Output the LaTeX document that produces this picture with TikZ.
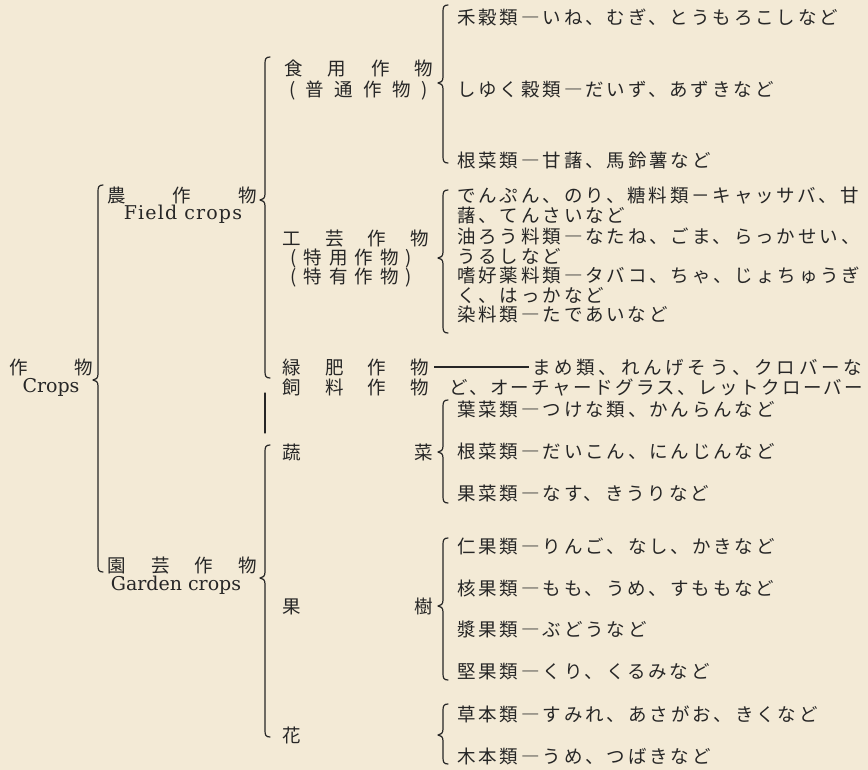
\documentclass[tikz,border=0pt]{standalone}
\usepackage{fontspec}
\newfontfamily\jp[LetterSpace=15.5]{Noto Sans CJK JP}
\newfontfamily\jpm[LetterSpace=13]{Noto Sans CJK JP}
\newfontfamily\jpn{Noto Sans CJK JP}
\newfontfamily\engl{DejaVu Serif}
\newfontfamily\englw[LetterSpace=6]{DejaVu Serif}
\definecolor{bgcream}{HTML}{F3EAD6}
\definecolor{ink}{HTML}{262626}
\tikzset{
  jtext/.style={anchor=west, inner sep=0pt, text=ink,
    font=\jp\fontsize{18.5}{21}\selectfont, text height=16.3pt, text depth=2.2pt},
  jlab/.style={anchor=west, inner sep=0pt, text=ink,
    font=\jpn\fontsize{18.5}{21}\selectfont, text height=16.3pt, text depth=2.2pt},
  elab/.style={anchor=base, inner sep=0pt, text=ink,
    font=\engl\fontsize{19}{22}\selectfont},
  bracestyle/.style={draw=ink, line width=1.2pt, line cap=round, line join=round},
  conn/.style={draw=ink, line width=1.2pt}
}
\newcommand\mybrace[4]{%
  \draw[bracestyle] (#1+5,#2) .. controls (#1+1,#2) and (#1,#2+2) .. (#1,#2+6)
    -- (#1,#3-6) .. controls (#1,#3-2) and (#1-2,#3) .. (#1-5,#3)
    .. controls (#1-2,#3) and (#1,#3+2) .. (#1,#3+6)
    -- (#1,#4-6) .. controls (#1,#4-2) and (#1+1,#4) .. (#1+5,#4);}
\begin{document}
\begin{tikzpicture}[x=1pt,y=-1pt]
\fill[bgcream] (0,0) rectangle (868,770);
\useasboundingbox (0,0) rectangle (868,770);

% level 0
\node[jlab] (sakumotsu) at (9,367) {\hbox to 84pt{作\hfil 物}};
\node[elab] (crops) at (51,392) {Crops};
\mybrace{98}{185}{380}{572}

% level 1
\node[jlab] (nou) at (107,195) {\hbox to 150pt{農\hfil 作\hfil 物}};
\node[elab, font=\englw\fontsize{19}{22}\selectfont] (field) at (183,220) {Field crops};
\node[jlab] (engei) at (107,565) {\hbox to 150pt{園\hfil 芸\hfil 作\hfil 物}};
\node[elab] (garden) at (176,590) {Garden crops};
\mybrace{265}{57}{200}{378}
\draw[bracestyle] (265,393) -- (265,433);
\mybrace{265}{445}{578}{737}

% level 2
\node[jlab] (shokuyou) at (284,68) {\hbox to 149pt{食\hfil 用\hfil 作\hfil 物}};
\node[jlab] (futsuu) at (289,89) {\hbox to 139pt{(\hfil 普\hfil 通\hfil 作\hfil 物\hfil )}};
\node[jlab] (kougei) at (282,238) {\hbox to 147pt{工\hfil 芸\hfil 作\hfil 物}};
\node[jlab] (tokuyou) at (290,257) {\hbox to 122pt{(\hfil 特\hfil 用\hfil 作\hfil 物\hfil )}};
\node[jlab] (tokuyuu) at (290,276) {\hbox to 122pt{(\hfil 特\hfil 有\hfil 作\hfil 物\hfil )}};
\node[jlab] (ryokuhi) at (282,367) {\hbox to 147pt{緑\hfil 肥\hfil 作\hfil 物}};
\node[jlab] (shiryou) at (282,387) {\hbox to 147pt{飼\hfil 料\hfil 作\hfil 物}};
\node[jlab] (sosai) at (282,452) {\hbox to 151pt{蔬\hfil 菜}};
\node[jlab] (kaju) at (282,606) {\hbox to 151pt{果\hfil 樹}};
\node[jlab] (hana) at (282,735) {花};

% level 2 braces
\mybrace{443}{5}{83}{163}
\mybrace{443}{190}{258}{333}
\mybrace{443}{400}{452}{503}
\mybrace{443}{538}{606}{680}
\mybrace{443}{704}{735}{764}

% level 3
\node[jtext] (k1) at (457,17) {禾穀類―いね、むぎ、とうもろこしなど};
\node[jtext] (k2) at (457,89) {しゆく穀類―だいず、あずきなど};
\node[jtext] (k3) at (457,160) {根菜類―甘藷、馬鈴薯など};

\node[jtext] (t1) at (457,195) {でんぷん、のり、糖料類－キャッサバ、甘};
\node[jtext] (t2) at (457,215) {藷、てんさいなど};
\node[jtext] (t3) at (457,236) {油ろう料類―なたね、ごま、らっかせい、};
\node[jtext] (t4) at (457,256) {うるしなど};
\node[jtext] (t5) at (457,275) {嗜好薬料類―タバコ、ちゃ、じょちゅうぎ};
\node[jtext] (t6) at (457,295) {く、はっかなど};
\node[jtext] (t7) at (457,314) {染料類―たであいなど};

\node[jlab] (mame) at (532,367) {\hbox to 330pt{ま\hfil め\hfil 類\hfil 、\hfil れ\hfil ん\hfil げ\hfil そ\hfil う\hfil 、\hfil ク\hfil ロ\hfil バ\hfil ー\hfil な}};
\node[jtext, font=\jpm\fontsize{18.5}{21}\selectfont] (mame2) at (449,387) {ど、オーチャードグラス、レットクローバー};
\draw[conn] ([xshift=5pt]ryokuhi.east) -- ([xshift=-3pt]mame.west);

\node[jtext] (s1) at (457,409) {葉菜類―つけな類、かんらんなど};
\node[jtext] (s2) at (457,451) {根菜類―だいこん、にんじんなど};
\node[jtext] (s3) at (457,493) {果菜類―なす、きうりなど};

\node[jtext] (f1) at (457,546) {仁果類―りんご、なし、かきなど};
\node[jtext] (f2) at (457,588) {核果類―もも、うめ、すももなど};
\node[jtext] (f3) at (457,629) {漿果類―ぶどうなど};
\node[jtext] (f4) at (457,671) {堅果類―くり、くるみなど};

\node[jtext] (h1) at (457,714) {草本類―すみれ、あさがお、きくなど};
\node[jtext] (h2) at (457,756) {木本類―うめ、つばきなど};
\end{tikzpicture}
\end{document}
